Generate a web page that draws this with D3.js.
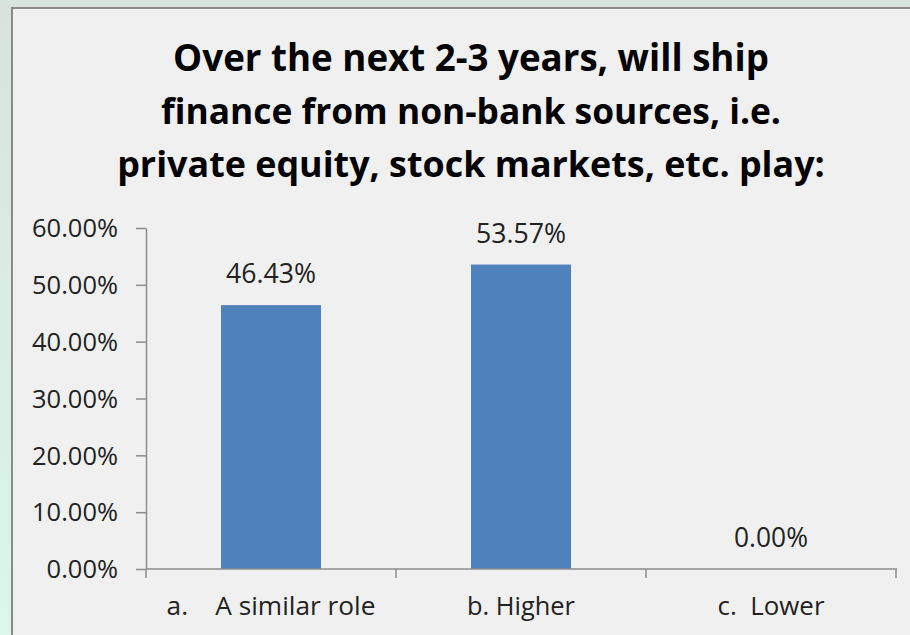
<!DOCTYPE html>
<html><head><meta charset="utf-8">
<script src="https://cdn.jsdelivr.net/npm/d3@7"></script>
<style>html,body{margin:0;padding:0;overflow:hidden;}svg{display:block;}</style>
</head><body>
<svg id="c" width="910" height="635"></svg>
<script>
const titleLines = ["Over the next 2-3 years, will ship","finance from non-bank sources, i.e.","private equity, stock markets, etc. play:"];
const categories = ["a.    A similar role","b. Higher","c.  Lower"];
const values = [46.43, 53.57, 0.00];
const valueLabels = ["46.43%","53.57%","0.00%"];
const yTicks = [0,10,20,30,40,50,60];

const svg = d3.select("#c");
const defs = svg.append("defs");
const g = defs.append("linearGradient").attr("id","bg").attr("x1",0).attr("y1",0).attr("x2",0).attr("y2",1);
g.append("stop").attr("offset","0%").attr("stop-color","#d8e3dd");
g.append("stop").attr("offset","100%").attr("stop-color","#dbf6eb");
svg.append("rect").attr("width",910).attr("height",635).attr("fill","url(#bg)");
svg.append("rect").attr("x",12).attr("y",8).attr("width",910).attr("height",640)
  .attr("fill","#f0f0f0").attr("stroke","#8a8a8a").attr("stroke-width",2);

const FONT = "'Open Sans', 'Noto Sans', sans-serif";
function fitSize(sel, target){
  const fs = parseFloat(sel.attr("font-size"));
  const w = sel.node().getComputedTextLength();
  return fs*target/w;
}
function fit(sel, target){ sel.attr("font-size", fitSize(sel, target)); }

// Title
const titleBase = [71,124,177];
const titleW = [596, 620, 708];
titleLines.forEach((t,i)=>{
  const s = svg.append("text").attr("x",471).attr("y",titleBase[i]).attr("text-anchor","middle")
    .attr("font-family",FONT).attr("font-weight","bold").attr("font-size",34).attr("fill","#000").text(t);
  fit(s, titleW[i]);
});

const x = d3.scaleBand().domain(categories).range([146,896]).paddingInner(0.6).paddingOuter(0.3);
const y = d3.scaleLinear().domain([0,60]).range([569,228]);

// bars
svg.selectAll("rect.bar").data(values).enter().append("rect").attr("class","bar")
  .attr("x",(d,i)=>x(categories[i])).attr("width",x.bandwidth())
  .attr("y",d=>y(d)).attr("height",d=>y(0)-y(d)).attr("fill","#4f81bd");

// axes
const axisColor = "#8c8c8c";
const yAxis = svg.append("g").attr("transform","translate(146,0)")
  .call(d3.axisLeft(y).tickValues(yTicks).tickSize(10).tickSizeOuter(0).tickFormat(d=>d.toFixed(2)+"%"));
yAxis.select(".domain").attr("stroke",axisColor).attr("stroke-width",1.5);
yAxis.selectAll(".tick line").attr("stroke",axisColor).attr("stroke-width",1.5);
const tickTexts = yAxis.selectAll(".tick text").attr("font-family",FONT).attr("font-size",19).attr("fill","#222").attr("x",-28).attr("dy","0.34em");
const tickFs = fitSize(tickTexts.filter(d=>d===60), 86);
tickTexts.attr("font-size", tickFs);

const xBounds = d3.scaleLinear().domain([0,3]).range([146,896]);
svg.append("line").attr("x1",146).attr("x2",897).attr("y1",569).attr("y2",569).attr("stroke",axisColor).attr("stroke-width",1.5);
svg.selectAll("line.xt").data([0,1,2,3]).enter().append("line").attr("class","xt")
  .attr("x1",d=>xBounds(d)).attr("x2",d=>xBounds(d)).attr("y1",569).attr("y2",578)
  .attr("stroke",axisColor).attr("stroke-width",1.5);

// category labels
const catW = [209,108,107];
categories.forEach((c,i)=>{
  const s = svg.append("text").attr("x",x(c)+x.bandwidth()/2).attr("y",615).attr("text-anchor","middle")
    .attr("font-family",FONT).attr("font-size",20).attr("fill","#222").style("white-space","pre").text(c);
  fit(s, catW[i]);
});

// value labels
values.forEach((v,i)=>{
  const s = svg.append("text").attr("x",x(categories[i])+x.bandwidth()/2).attr("y",y(v)-22).attr("text-anchor","middle")
    .attr("font-family",FONT).attr("font-size",20).attr("fill","#222").text(valueLabels[i]);
  fit(s, i==2?74:90);
});
</script>
</body></html>
